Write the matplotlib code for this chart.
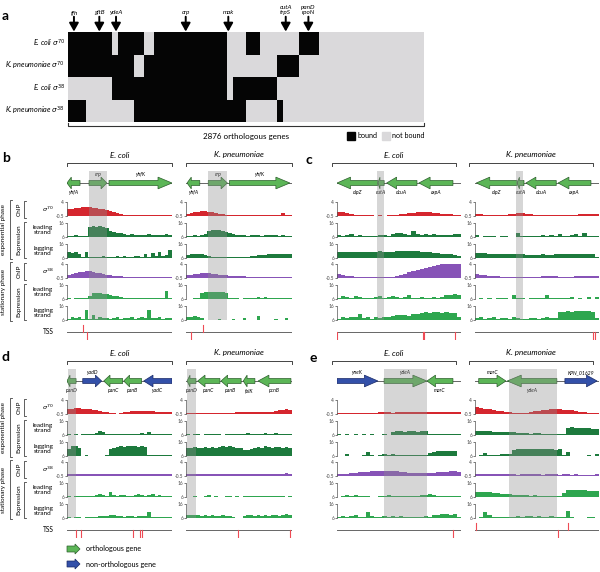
import numpy as np
import matplotlib
matplotlib.use('Agg')
import matplotlib.pyplot as plt
from matplotlib.patches import FancyArrow, Rectangle
from matplotlib.colors import ListedColormap

plt.rcParams['font.family'] = ['Lato', 'DejaVu Sans']
plt.rcParams['mathtext.fontset'] = 'dejavusans'

# ---------------- panel a : binding heat map ----------------
hm_rows = ['E. coli $\\sigma^{70}$', 'K. pneumoniae $\\sigma^{70}$',
           'E. coli $\\sigma^{38}$', 'K. pneumoniae $\\sigma^{38}$']
n_orthologs = 2876
hm_edges = [0, 148, 356, 364, 404, 531, 553, 612, 693, 1288, 1334, 1437,
            1550, 1685, 1733, 1865, 2027, 2876]
hm_eco70 = [1, 1, 0, 0, 1, 1, 1, 0, 1, 0, 0, 1, 0, 0, 0, 1, 0]
hm_kpn70 = [1, 1, 1, 1, 1, 0, 0, 1, 1, 0, 0, 0, 0, 1, 1, 0, 0]
hm_eco38 = [0, 0, 1, 1, 1, 1, 1, 1, 1, 0, 1, 1, 1, 0, 0, 0, 0]
hm_kpn38 = [1, 0, 0, 0, 0, 1, 1, 1, 1, 1, 1, 0, 0, 1, 0, 0, 0]
hm_gene_names = ['ffh', 'gltB', 'ydeA', 'crp', 'mak', 'cutA\ntrpS', 'panD\nrpoN']
hm_gene_pos = [48, 253, 388, 951, 1295, 1759, 1942]

# ---------------- panel b : crp ----------------
b_eco_genes = [('yhfA', 0.00, 0.124, -1, True, 'below'),
               ('crp', 0.21, 0.38, 1, True, 'above'),
               ('yhfK', 0.40, 1.00, 1, True, 'above')]
b_eco_hl = (0.21, 0.38)
b_eco_tss = [(0.15, 1), (0.19, -1)]
b_eco_chip70 = [1.7,1.9,2.1,2.2,2.3,2.3,2.3,2.2,2.0,1.8,1.6,1.3,1.0,0.7,0.4,0.1,-0.1,-0.2,-0.25,-0.25,-0.25,-0.25,-0.25,-0.25,-0.25,-0.25,-0.25,-0.25,-0.25,-0.25]
b_eco_lead_exp = [7,6.8,7.2,6.5,7,6.8,13.2,13.8,13,13.5,12.8,12.2,10.5,9.8,9.2,8.5,8,7.5,7.8,7.2,7.6,7.3,7.5,7.8,7.2,7.5,7.6,7.4,7.8,7.5]
b_eco_lag_exp = [10,9.5,10.5,9,6.8,10,7,6.5,6.8,6.5,7.5,6.5,7,6.8,7.5,7,7.2,6.8,7,7.5,7.2,7,8.5,7,9.5,7.2,10,7.5,8,11.5]
b_eco_chip38 = [0.6,0.9,1.2,1.4,1.5,1.6,1.6,1.4,1.2,1.0,0.8,0.6,0.4,0.2,0.1,0.0,-0.1,-0.1,-0.15,-0.15,-0.1,-0.1,-0.15,-0.15,-0.1,-0.15,-0.1,-0.1,-0.15,-0.1]
b_eco_lead_sta = [6.5,6.3,6.6,6.4,6.5,6.8,8.5,10.5,10,10.2,9.5,9.8,9,8.5,8,7.5,6.8,6.5,6.6,7,6.5,6.8,6.6,6.5,6.7,6.5,6.8,7,12,6.8]
b_eco_lag_sta = [7,8,7.5,8.5,7,13.5,6.5,9.5,7,8,7.5,7.2,7,7.5,8,7,7.2,7.5,8,7,7.5,8,7.2,13,7.5,7.2,8.5,7,7.5,7.2]

b_kpn_genes = [('yhfA', 0.01, 0.13, -1, True, 'below'),
               ('crp', 0.21, 0.39, 1, True, 'above'),
               ('yhfK', 0.41, 0.98, 1, True, 'above')]
b_kpn_hl = (0.21, 0.39)
b_kpn_tss = [(0.05, -1), (0.16, 1)]
b_kpn_chip70 = [0.2,0.5,0.7,0.9,1.0,1.0,0.9,0.7,0.4,0.2,0.0,-0.1,-0.2,-0.25,-0.3,-0.3,-0.3,-0.3,-0.3,-0.3,-0.3,-0.3,-0.3,-0.3,-0.3,-0.3,-0.3,0.4,-0.3,-0.3]
b_kpn_lead_exp = [7,6.8,7.2,7,7.5,8,10.5,11,11.2,11,10.6,9.8,8.5,8,7.5,7.2,7.5,7,7.2,7.5,7.2,7,7.3,7.1,7.4,7.2,6.8,7.2,7,6.8]
b_kpn_lag_exp = [8,8.5,9,9.2,8.8,8,7.5,7,6.8,6.5,6.5,6.5,6.6,6.5,6.8,7,6.8,7,7.2,7.5,7.8,8,8.2,8.5,8.5,8.8,9,9,9.2,9]
b_kpn_chip38 = [0.4,0.6,0.8,0.9,1.0,1.0,1.0,0.9,0.8,0.6,0.5,0.4,0.3,0.2,0.1,0.05,0.0,-0.05,-0.1,-0.1,-0.15,-0.1,-0.15,-0.15,-0.2,-0.15,-0.2,-0.15,-0.2,-0.2]
b_kpn_lead_sta = [6.3,6.2,6.5,6.4,10.5,11,11.2,11,11,11.2,10.8,10.4,6.8,6.4,6.5,6.3,6.4,7,6.5,6.8,7.5,7,7.2,6.5,6.8,6.5,6.6,6.4,6.5,6.5]
b_kpn_lag_sta = [8,8.5,8.8,8.5,7.5,6.2,6.3,6.2,6.3,6.5,6.2,6.3,6.2,6.5,6.2,6.3,7.5,6.2,6.3,6.2,9,6.3,6.2,6.3,6.2,6.5,6.3,6.2,7.5,6.3]

# ---------------- panel c : cutA ----------------
c_eco_genes = [('dipZ', 0.00, 0.33, -1, True, 'below'),
               ('cutA', 0.33, 0.38, -1, True, 'below'),
               ('dcuA', 0.40, 0.645, -1, True, 'below'),
               ('aspA', 0.66, 0.935, -1, True, 'below')]
c_eco_hl = (0.32, 0.38)
c_eco_tss = [(0.0, -1), (0.69, -1), (0.705, -1), (0.95, -1)]
c_eco_chip70 = [0.8,0.7,0.4,0.0,-0.3,-0.3,-0.3,-0.3,-0.3,-0.35,-0.3,-0.35,-0.3,-0.3,-0.1,0.1,0.3,0.5,0.6,0.7,0.8,0.8,0.7,0.6,0.4,0.2,0.1,0.0,-0.1,-0.2]
c_eco_lead_exp = [7.5,6.8,7.2,8,7,7.2,7,6.8,7,6.8,7.2,7.5,7,8,8.5,9,8,7.5,10,8,7.5,7.8,7.5,8,7.2,7.5,7.2,7.5,7.8,8]
c_eco_lag_exp = [10.2,10.5,10.2,10.3,10,10.2,10.5,10.3,10.2,10.5,10.8,10.4,10.2,10.5,10.8,11,11.2,11,10.9,10.7,10.5,10.2,10,9.8,9.5,9.2,9,8.7,8.2,7.5]
c_eco_chip38 = [0.7,0.5,0.3,0.0,-0.2,-0.3,-0.3,-0.3,-0.3,-0.3,-0.3,-0.3,-0.3,-0.2,0.1,0.5,0.9,1.3,1.7,2.1,2.4,2.7,3.0,3.4,3.8,4.0,4.0,4.0,4.0,4.0]
c_eco_lead_sta = [7,8.5,7.5,7,8,7.2,6.8,7,6.8,7.5,8,7,7.5,8,7.2,7,7.5,9,7,6.8,7.5,7,6.8,7.2,7,7.5,9,9.2,9.5,9]
c_eco_lag_sta = [7,8,7.5,7.8,8,10,7.5,7.8,7,8,7.5,8.5,8.5,9,9.5,9.8,9.5,9,10,10.5,11.2,11.5,11.3,11.5,11.4,11.2,11.5,11.3,11,8]

c_kpn_genes = [('dipZ', 0.01, 0.34, -1, True, 'below'),
               ('cutA', 0.34, 0.395, -1, True, 'below'),
               ('dcuA', 0.41, 0.655, -1, True, 'below'),
               ('aspA', 0.67, 0.935, -1, True, 'below')]
c_kpn_hl = (0.33, 0.39)
c_kpn_tss = [(0.95, -1), (0.97, -1)]
c_kpn_chip70 = [0.1,0.0,-0.1,-0.2,-0.2,-0.3,-0.1,-0.2,0.1,0.3,0.5,0.4,0.2,0.0,-0.1,-0.2,-0.2,-0.3,-0.3,-0.3,-0.25,-0.3,-0.2,-0.2,-0.1,0.0,0.0,0.1,0.1,0.1]
c_kpn_lead_exp = [7.5,6.2,6.5,6.8,6.5,6.3,6.8,6.5,6.3,6.2,8.5,6.5,6.8,7,6.5,7,7.2,6.8,7.5,6.5,7.8,6.5,7,7.2,8,6.5,8.5,7,6.5,7]
c_kpn_lag_exp = [9.8,9.5,9.3,9,9.2,9,8.8,9,8.8,9,9.2,8.7,8.4,8.2,8.2,8.4,8.5,8.2,8.4,8.7,8.5,8.7,8.8,8.6,8.7,9,8.7,8.8,8.7,6.5]
c_kpn_chip38 = [0.8,0.6,0.4,0.2,0.1,0.0,-0.1,-0.1,-0.2,-0.2,-0.25,-0.2,-0.15,-0.1,-0.1,-0.05,0.0,0.0,0.05,0.0,-0.1,-0.3,-0.2,-0.1,0.0,0.05,0.1,0.1,0.1,0.15]
c_kpn_lead_sta = [6.2,6.5,6.3,6.5,6.2,6.4,6.8,6.5,6.3,9,6.4,6.6,6.3,7,6.5,7,6.4,9,6.5,6.5,6.8,7,6.5,7.5,6.3,6.5,6.3,7.5,6.3,7.5]
c_kpn_lag_sta = [7.5,8,7,7.2,8,7,7.5,7.2,7,7.8,7.5,7,6.8,7.5,7.2,7,7.2,8,7.5,7.2,11.8,12,12.2,12,12.3,12.2,12.5,12.2,12,7.5]

# ---------------- panel d : panD ----------------
d_eco_genes = [('panD', 0.00, 0.086, -1, True, 'below'),
               ('yadD', 0.15, 0.33, 1, False, 'above'),
               ('panC', 0.35, 0.53, -1, True, 'below'),
               ('panB', 0.54, 0.71, -1, True, 'below'),
               ('yadC', 0.73, 1.00, -1, False, 'below')]
d_eco_hl = (0.01, 0.086)
d_eco_tss = [(0.086, -1), (0.133, -1), (0.629, -1), (0.695, -1), (0.714, -1)]
d_eco_chip70 = [1.0,1.2,1.3,1.3,1.2,1.1,1.0,0.9,0.7,0.5,0.3,0.1,-0.1,-0.3,-0.4,-0.2,0.1,0.3,0.5,0.6,0.6,0.6,0.5,0.5,0.4,0.3,0.3,0.2,0.2,0.2]
d_eco_lead_exp = [6.5,6.3,6.5,6.3,6.5,6.4,6.8,7,7.5,9,8.5,7,6.5,6.8,6.5,6.4,6.6,6.5,6.8,6.5,6.5,7.5,6.8,8.5,6.5,6.8,6.5,6.6,6.4,6.5]
d_eco_lag_exp = [11,13.5,13,12,6,6.8,6,6,6,6,6.3,7,11,12,12.5,12.8,12.5,12.8,13,12.8,12.5,12.8,12.5,6.5,6.8,7,6.8,6.5,6.8,6.5]
d_eco_chip38 = [0,0.05,0.1,0.1,0.05,0,0.05,0.1,0.15,0.1,0.05,0.1,0,0.05,0.1,0.05,0,0.05,0.1,0.05,0,0.05,0.1,0.05,0.1,0.05,0,0.05,0.1,0.05]
d_eco_lead_sta = [6.5,6.3,6.5,6.6,7,6.8,6.5,7,7.5,8.5,7.2,7,9.5,7.5,7,7.2,7.5,7,6.8,7.2,8,7.5,7,7.5,8.5,7,7.2,6.8,6.5,6.5]
d_eco_lag_sta = [6.5,6.3,6.4,6.5,6.3,6.5,6.4,6.5,6.8,7.5,7.2,7.5,8,7.8,7.5,7.2,7,7.2,7.5,7,7.2,7.5,7.2,10,7,6.8,6.6,6.5,6.8,6.5]

d_kpn_genes = [('panD', 0.01, 0.094, -1, True, 'below'),
               ('panC', 0.11, 0.32, -1, True, 'below'),
               ('panB', 0.33, 0.52, -1, True, 'below'),
               ('folK', 0.54, 0.65, -1, True, 'below'),
               ('pcnB', 0.68, 0.99, -1, True, 'below')]
d_kpn_hl = (0.01, 0.094)
d_kpn_tss = [(0.49, -1), (0.98, -1)]
d_kpn_chip70 = [-0.2,-0.3,-0.3,-0.3,-0.2,-0.25,-0.3,-0.25,-0.2,-0.2,-0.15,-0.1,-0.1,-0.05,0,0,0.05,0.1,0.1,0.1,0.15,0.1,0.1,0.2,0.3,0.5,0.7,0.9,1.0,0.9]
d_kpn_lead_exp = [6.5,6.3,6.5,6.8,6.3,6.5,6.4,6.8,6.5,6.6,6.3,7,6.5,6.8,6.4,7,6.5,7.2,6.5,6.8,7,6.6,7.5,6.5,7,7.5,6.8,7,6.5,6.8]
d_kpn_lag_exp = [11.5,12,12.5,12,11.8,12.2,12,12.5,12,12.5,13,12.5,12.8,12.5,12,11.5,10.5,10,11,12,12.5,12,12.8,12.5,12,12.5,12.2,12,12.5,12]
d_kpn_chip38 = [0,0.05,0.1,0.05,0,0.05,0,0.05,0.1,0.05,0.1,0.05,0,0.05,0.1,0.05,0.1,0.05,0.1,0.15,0.1,0.05,0.1,0.15,0.2,0.25,0.3,0.3,0.35,0.3]
d_kpn_lead_sta = [6.3,6.2,6.5,6.3,6.2,6.5,7.5,6.3,6.4,6.2,6.3,6.5,6.4,6.3,6.5,6.3,6.5,6.6,6.4,6.5,6.8,6.5,6.6,6.5,6.4,6.5,6.6,6.4,6.3,6.5]
d_kpn_lag_sta = [8,8.5,8,7.8,7.5,7.8,7.5,7.8,7.5,7.3,7.8,7.5,7.2,7,6,6,7.5,7.8,8,7.5,8.5,7.5,7.8,7.5,8,7.8,7.5,8.5,9,8]

# ---------------- panel e : ydeA ----------------
e_eco_genes = [('yneK', 0.00, 0.33, 1, False, 'above'),
               ('ydeA', 0.38, 0.725, 1, True, 'above'),
               ('marC', 0.725, 0.935, -1, True, 'below')]
e_eco_hl = (0.38, 0.725)
e_eco_tss = [(0.935, -1)]
e_eco_chip70 = [-0.3,-0.2,-0.25,-0.2,-0.15,-0.1,-0.1,-0.1,-0.05,-0.05,0,0,0,-0.05,0,0,0,0.05,0.05,0.1,0.1,0.1,0.15,0.2,0.2,0.2,0.25,0.3,0.3,0.3]
e_eco_lead_exp = [6.5,6.3,6.5,6.2,6.4,6.3,6.5,6.2,6.4,6.2,6.3,6.5,6.3,8.5,8.8,8.6,8.5,8.8,8.7,8.5,8.8,8.6,7,6.8,7,6.5,6.8,6.5,6.6,6.5]
e_eco_lag_exp = [6,6,7.5,6,6,6,6.5,9,7,6,7,7.5,6.8,7.2,7,6.5,6.8,6.5,6.8,6.5,6.5,7,8,9,9.5,9.8,9.5,9.8,9.5,6.2]
e_eco_chip38 = [0,0.2,0.3,0.5,0.6,0.7,0.8,0.9,1.0,1.1,1.1,1.2,1.2,1.1,1.0,0.9,0.8,0.6,0.5,0.4,0.4,0.4,0.5,0.6,0.7,0.8,0.9,1.0,1.0,0.9]
e_eco_lead_sta = [6.3,6.5,7.5,6.5,7.5,6.8,6.5,7,6.3,6.2,6.8,6.5,7.5,6.5,6.8,6.6,6.8,6.5,6.8,7,7.2,7.5,8,7.2,6.8,6.5,6.6,7,6.5,6.5]
e_eco_lag_sta = [6.5,7.5,7,7.5,8.5,6.5,7,10,7.5,6.5,7,7.2,7,7.5,7,7.2,7,6.8,7,6.8,7,7.2,7,8,8.5,8.8,8.7,8.5,8.8,6.8]

e_kpn_genes = [('marC', 0.03, 0.25, 1, True, 'above'),
               ('ydeA', 0.26, 0.66, -1, True, 'below'),
               ('KPN_01629', 0.725, 0.985, 1, False, 'above')]
e_kpn_hl = (0.275, 0.66)
e_kpn_tss = [(0.008, 1), (0.67, -1), (0.75, 1)]
e_kpn_chip70 = [1.6,1.4,1.2,1.0,0.8,0.6,0.4,0.2,0.0,-0.2,-0.3,-0.3,-0.1,0.2,0.4,0.6,0.8,0.9,1.0,1.0,1.0,0.9,0.8,0.7,0.5,0.3,0.1,-0.1,-0.2,-0.3]
e_kpn_lead_exp = [9,9.2,9,8.8,8.5,8.5,8.2,8,8.2,8,7.5,7.5,7.2,7,7.2,7.5,7,6.8,7,6.8,6.5,7,11,11.5,11.3,11.2,11,10.8,10.5,10]
e_kpn_lag_exp = [6,6.5,8,6.8,7,6.8,7.5,7.2,7.5,10.5,10.7,11,10.8,11,10.7,11.1,10.9,11,10.7,10.5,11,6.5,9,6.3,6,6.2,6.3,6.5,6.3,7.5]
e_kpn_chip38 = [0.1,0.15,0.1,0.2,0.3,0.1,0.05,0,0.1,0,-0.05,0.05,0.1,0,0.05,0.0,-0.05,0,0.05,0,-0.05,0.05,0,-0.05,0,-0.1,-0.05,-0.1,-0.1,0.1]
e_kpn_lead_sta = [9.5,9.7,9.5,9.6,9.2,8.8,8.4,8.1,7.8,7.5,7.2,7.5,7.2,7,7.2,6.8,7,6.8,6.6,6.8,7,9,10.8,11.2,11,10.8,10.8,10.5,10.3,10]
e_kpn_lag_sta = [6,6.5,10,8.5,6.5,6.8,7,6.5,6.8,7,7.2,7,7.2,7.5,7,7.2,7,6.8,7.2,7,6.8,6.5,11,6.5,6.3,6.2,6.3,6.5,6.8,6.3]

# ---------------- styling ----------------
C_RED, C_EXP, C_PUR, C_STA = '#d5262e', '#1d7a3d', '#8753b7', '#2ea64f'
GENE_G, GENE_G_EDGE = '#5cb657', '#2c5e2c'
GENE_B, GENE_B_EDGE = '#3350a9', '#1a2a66'
HM_GRAY = '#dad9db'
TRACK_TOPS = [202, 223, 244, 264, 285, 306]
TRACK_H = 14

W, H = 600, 572
fig = plt.figure(figsize=(6, 5.72), dpi=100)


def add_ax(x0, y0, x1, y1, z=1):
    return fig.add_axes([x0 / W, 1 - y1 / H, (x1 - x0) / W, (y1 - y0) / H], zorder=z)


ov = add_ax(0, 0, W, H, z=0)
ov.set_xlim(0, W)
ov.set_ylim(H, 0)
ov.axis('off')

# ---------------- draw panel a ----------------
ha_ax = add_ax(68, 32, 424, 122, z=2)
grid = np.array([hm_eco70, hm_kpn70, hm_eco38, hm_kpn38])
ha_ax.pcolormesh(hm_edges, np.arange(len(hm_rows) + 1), grid,
                 cmap=ListedColormap([HM_GRAY, '#050505']), vmin=0, vmax=1)
ha_ax.set_xlim(0, n_orthologs)
ha_ax.set_ylim(len(hm_rows), 0)
ha_ax.axis('off')
for i, lab in enumerate(hm_rows):
    ha_ax.text(-0.008 * n_orthologs, i + 0.5, lab, ha='right', va='center',
               style='italic', fontsize=5.2)
for name, pos in zip(hm_gene_names, hm_gene_pos):
    ha_ax.annotate('', xy=(pos, -0.02), xytext=(pos, -0.68),
                   arrowprops=dict(arrowstyle='-|>,head_length=0.5,head_width=0.28',
                                   color='k', lw=1.4, shrinkA=0, shrinkB=0),
                   annotation_clip=False)
    ha_ax.text(pos, -0.74, name, ha='center', va='bottom', style='italic',
               fontsize=4.6, linespacing=1.15)
ov.plot([68, 68, 424, 424], [122.5, 125.5, 125.5, 122.5], color='#333', lw=0.8)
ov.text(246, 136, f'{n_orthologs} orthologous genes', ha='center', va='center', fontsize=5.8)
ov.add_patch(Rectangle((347, 131.5), 8, 8, color='#050505'))
ov.text(357, 135.5, 'bound', va='center', fontsize=5.2)
ov.add_patch(Rectangle((382, 131.5), 8, 8, color=HM_GRAY))
ov.text(392, 135.5, 'not bound', va='center', fontsize=5.2)
ov.text(2, 16, 'a', fontsize=10, fontweight='bold', va='center')

# ---------------- sub-panels b-e ----------------
TRACK_SPECS = [('chip', C_RED), ('exp', C_EXP), ('exp', C_EXP),
               ('chip', C_PUR), ('exp', C_STA), ('exp', C_STA)]


def draw_sub(layout, genes, hl, tracks, tss):
    tx0, tx1, bx0, bx1, dy, title = layout
    ov.text((bx0 + bx1) / 2, 155 + dy, title, ha='center', va='center',
            style='italic', fontsize=5.8)
    ov.plot([bx0, bx0, bx1, bx1], [166 + dy, 163 + dy, 163 + dy, 166 + dy],
            color='#444', lw=0.7)
    # gene map
    ga = add_ax(tx0, 174 + dy, tx1, 192 + dy, z=3)
    ga.set_xlim(0, 1)
    ga.set_ylim(-1, 1)
    ga.axis('off')
    ga.plot([0, 1], [0, 0], color='#666', lw=0.7, zorder=1)
    pxw = tx1 - tx0
    for name, s, e, strand, ortho, lab in genes:
        length = e - s
        head = min(14.0 / pxw, 0.33 * length)
        fc, ec = (GENE_G, GENE_G_EDGE) if ortho else (GENE_B, GENE_B_EDGE)
        x = s if strand > 0 else e
        ga.add_patch(FancyArrow(x, 0, strand * length, 0, width=0.56, head_width=1.3,
                                head_length=head, length_includes_head=True,
                                fc=fc, ec=ec, lw=0.5, zorder=2))
        ya = 0.95 if lab == 'above' else -1.05
        ga.text((s + e) / 2, ya, name, ha='center', va='center', style='italic',
                fontsize=3.7, clip_on=False)
    # signal tracks
    for (kind, col), top, vals in zip(TRACK_SPECS, TRACK_TOPS, tracks):
        ta = add_ax(tx0, top + dy, tx1, top + dy + TRACK_H, z=2)
        lo, hi = (-0.5, 4) if kind == 'chip' else (6, 16)
        ta.stairs(vals, np.linspace(0, 1, len(vals) + 1), baseline=lo, fill=True,
                  color=col, lw=0)
        ta.set_xlim(0, 1)
        ta.set_ylim(lo, hi)
        ta.set_xticks([])
        ta.set_yticks([lo, hi])
        ta.set_yticklabels(['-0.5', '4'] if kind == 'chip' else ['6', '16'])
        for sp in ['top', 'right', 'bottom']:
            ta.spines[sp].set_visible(False)
        ta.spines['left'].set_linewidth(0.5)
        ta.spines['left'].set_color('#555')
        ta.tick_params(axis='y', length=1.5, width=0.5, pad=0.6, labelsize=3.4,
                       colors='#444')
        ta.patch.set_alpha(0)
    # highlight band
    hla = add_ax(tx0, 171 + dy, tx1, 320 + dy, z=5)
    hla.set_xlim(0, 1)
    hla.axis('off')
    hla.axvspan(hl[0], hl[1], color='#8f8f8f', alpha=0.36, lw=0)
    # TSS
    sa = add_ax(tx0, 324 + dy, tx1, 340 + dy, z=2)
    sa.set_xlim(0, 1)
    sa.set_ylim(-1, 1)
    sa.axis('off')
    sa.plot([0, 1], [0, 0], color='#666', lw=0.7)
    for pos, strand in tss:
        sa.plot([pos, pos], [0, strand * 0.9], color='#ee4b55', lw=0.8)


def left_labels(dy, sig1, sig2):
    for (y0, y1, phase, sig) in [(200, 259, 'exponential phase', sig1),
                                 (262, 321, 'stationary phase', sig2)]:
        ov.text(4, (y0 + y1) / 2 + dy, phase, rotation=90, ha='center', va='center',
                fontsize=4.6)
        ov.plot([12, 10, 10, 12], [y0 + dy, y0 + dy, y1 + dy, y1 + dy], color='#444', lw=0.6)
        c0, c1 = y0 + 1, y0 + 18
        e0, e1 = y0 + 22, y1 - 1
        ov.text(19, (c0 + c1) / 2 + dy, 'ChIP', rotation=90, ha='center', va='center', fontsize=4.6)
        ov.plot([26, 24, 24, 26], [c0 + dy, c0 + dy, c1 + dy, c1 + dy], color='#444', lw=0.6)
        ov.text(19, (e0 + e1) / 2 + dy, 'Expression', rotation=90, ha='center', va='center', fontsize=4.6)
        ov.plot([26, 24, 24, 26], [e0 + dy, e0 + dy, e1 + dy, e1 + dy], color='#444', lw=0.6)
        ov.text(48, y0 + 9 + dy, sig, ha='center', va='center', fontsize=4.6)
        ov.text(43, y0 + 30 + dy, 'leading\nstrand', ha='center', va='center', fontsize=4.6,
                linespacing=1.2)
        ov.text(43, y0 + 51 + dy, 'lagging\nstrand', ha='center', va='center', fontsize=4.6,
                linespacing=1.2)
    ov.text(48, 332 + dy, 'TSS', ha='center', va='center', fontsize=4.8)


draw_sub((67, 172, 67, 172, 0, 'E. coli'), b_eco_genes, b_eco_hl,
         [b_eco_chip70, b_eco_lead_exp, b_eco_lag_exp, b_eco_chip38, b_eco_lead_sta, b_eco_lag_sta], b_eco_tss)
draw_sub((186, 292, 186, 292, 0, 'K. pneumoniae'), b_kpn_genes, b_kpn_hl,
         [b_kpn_chip70, b_kpn_lead_exp, b_kpn_lag_exp, b_kpn_chip38, b_kpn_lead_sta, b_kpn_lag_sta], b_kpn_tss)
draw_sub((337, 461, 332, 456, 0, 'E. coli'), c_eco_genes, c_eco_hl,
         [c_eco_chip70, c_eco_lead_exp, c_eco_lag_exp, c_eco_chip38, c_eco_lead_sta, c_eco_lag_sta], c_eco_tss)
draw_sub((475, 599, 469, 593, 0, 'K. pneumoniae'), c_kpn_genes, c_kpn_hl,
         [c_kpn_chip70, c_kpn_lead_exp, c_kpn_lag_exp, c_kpn_chip38, c_kpn_lead_sta, c_kpn_lag_sta], c_kpn_tss)
draw_sub((67, 172, 67, 172, 198, 'E. coli'), d_eco_genes, d_eco_hl,
         [d_eco_chip70, d_eco_lead_exp, d_eco_lag_exp, d_eco_chip38, d_eco_lead_sta, d_eco_lag_sta], d_eco_tss)
draw_sub((186, 292, 186, 292, 198, 'K. pneumoniae'), d_kpn_genes, d_kpn_hl,
         [d_kpn_chip70, d_kpn_lead_exp, d_kpn_lag_exp, d_kpn_chip38, d_kpn_lead_sta, d_kpn_lag_sta], d_kpn_tss)
draw_sub((337, 461, 332, 456, 198, 'E. coli'), e_eco_genes, e_eco_hl,
         [e_eco_chip70, e_eco_lead_exp, e_eco_lag_exp, e_eco_chip38, e_eco_lead_sta, e_eco_lag_sta], e_eco_tss)
draw_sub((475, 599, 469, 593, 198, 'K. pneumoniae'), e_kpn_genes, e_kpn_hl,
         [e_kpn_chip70, e_kpn_lead_exp, e_kpn_lag_exp, e_kpn_chip38, e_kpn_lead_sta, e_kpn_lag_sta], e_kpn_tss)

left_labels(0, '$\\sigma^{70}$', '$\\sigma^{38}$')
left_labels(198, '$\\sigma^{70}$', '$\\sigma^{38}$')

for letter, x, y in [('b', 2, 158), ('c', 306, 160), ('d', 2, 357), ('e', 309, 358)]:
    ov.text(x, y, letter, fontsize=10, fontweight='bold', va='center')

# legend for gene types
for i, (lab, fc, ec) in enumerate([('orthologous gene', GENE_G, GENE_G_EDGE),
                                   ('non-orthologous gene', GENE_B, GENE_B_EDGE)]):
    y = 549 + 15 * i
    ov.add_patch(FancyArrow(67, y, 13, 0, width=6, head_width=10, head_length=5,
                            length_includes_head=True, fc=fc, ec=ec, lw=0.5))
    ov.text(86, y, lab, va='center', fontsize=5.2)

fig.savefig('out.png', dpi=100)
